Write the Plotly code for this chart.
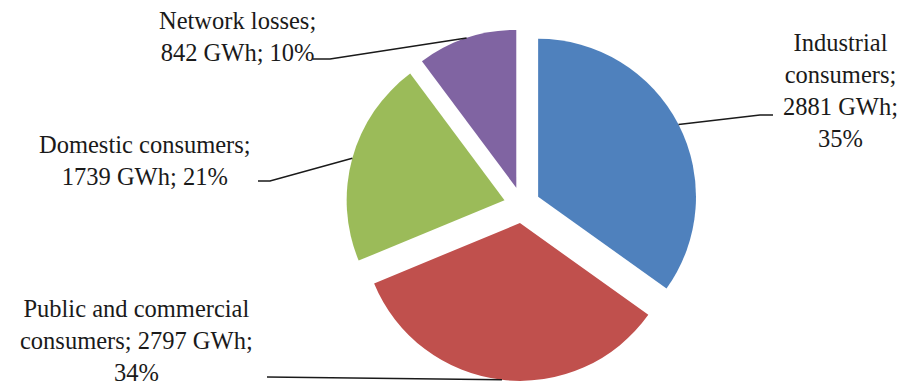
import math
import plotly.graph_objects as go

# Electricity consumption by consumer group
categories = ["Industrial consumers", "Public and commercial consumers",
              "Domestic consumers", "Network losses"]
values_gwh = [2881, 2797, 1739, 842]
colors = ["#4F81BD", "#C0504D", "#9BBB59", "#8064A2"]

# How each label is broken over lines
label_templates = [
    "Industrial<br>consumers;<br>{v} GWh;<br>{p}%",
    "Public and commercial<br>consumers; {v} GWh;<br>{p}%",
    "Domestic consumers;<br>{v} GWh; {p}%",
    "Network losses;<br>{v} GWh; {p}%",
]

# Label placement (pixel centre of the text block) and leader-line elbow points
W, H = 907, 385
label_pos = [(840, 91), (136, 340), (145, 160), (237, 36)]
leader_tail = [
    [(773, 115), (760, 115)],
    [(267, 377)],
    [(258, 181), (270, 181)],
    [(313, 59), (330, 59)],
]

# Pie geometry in pixels
cx, cy = 522, 205
outer = 176
pull = 0.115
r = outer / (1 + pull)

total = sum(values_gwh)
pcts = [round(v / total * 100) for v in values_gwh]

FONT = "Liberation Serif"


def px(x, y):
    return x / W, 1 - y / H


fig = go.Figure(go.Pie(
    labels=categories,
    values=values_gwh,
    sort=False,
    direction="clockwise",
    rotation=0,
    pull=[pull] * len(values_gwh),
    marker=dict(colors=colors, line=dict(width=0)),
    textinfo="none",
    hoverinfo="label+value+percent",
    showlegend=False,
    domain=dict(x=[(cx - outer) / W, (cx + outer) / W],
                y=[1 - (cy + outer) / H, 1 - (cy - outer) / H]),
))

shapes = []
annotations = []
cum = 0
for i, v in enumerate(values_gwh):
    mid = (cum + v / 2) / total * 2 * math.pi
    cum += v
    # point on the outer arc of the pulled slice, at its mid angle
    ax = cx + (1 + pull) * r * math.sin(mid)
    ay = cy - (1 + pull) * r * math.cos(mid)
    pts = leader_tail[i] + [(ax, ay)]
    path = "M " + " L ".join("{:.5f},{:.5f}".format(*px(x, y)) for x, y in pts)
    shapes.append(dict(type="path", xref="paper", yref="paper", path=path,
                       line=dict(color="#1a1a1a", width=1.5)))
    lx, ly = px(*label_pos[i])
    annotations.append(dict(
        x=lx, y=ly, xref="paper", yref="paper", showarrow=False,
        xanchor="center", yanchor="middle", align="center",
        text=label_templates[i].format(v=v, p=pcts[i]),
        font=dict(family=FONT, size=24.5, color="#1a1a1a"),
    ))

fig.update_layout(
    width=W, height=H,
    margin=dict(l=0, r=0, t=0, b=0),
    paper_bgcolor="white",
    plot_bgcolor="white",
    font=dict(family=FONT),
    shapes=shapes,
    annotations=annotations,
)

fig.write_html("out.html")
